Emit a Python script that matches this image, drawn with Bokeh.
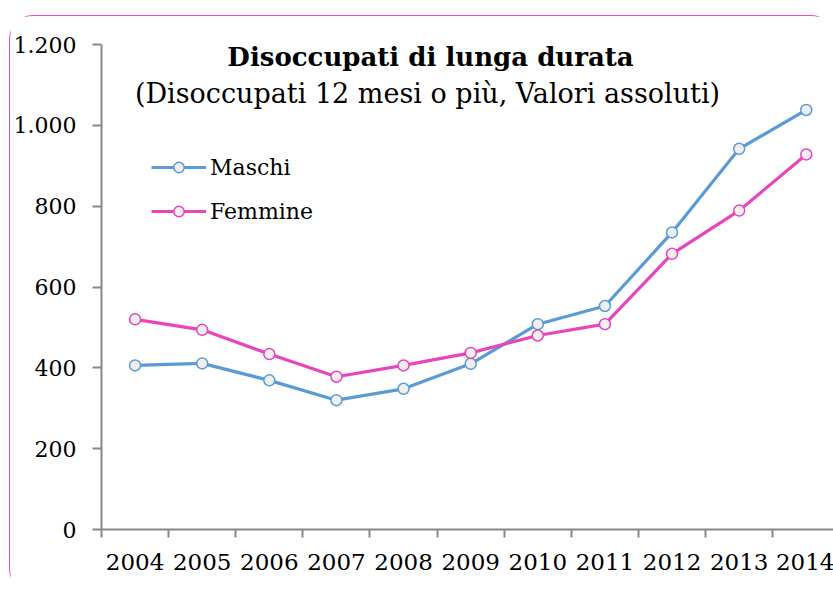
from bokeh.plotting import figure
from bokeh.models import (ColumnDataSource, FixedTicker, Label, Legend, LegendItem, Range1d)
from bokeh.embed import file_html
from bokeh.resources import INLINE

years = [2004, 2005, 2006, 2007, 2008, 2009, 2010, 2011, 2012, 2013, 2014]
maschi = [406, 411, 369, 320, 348, 410, 508, 553, 735, 942, 1038]
femmine = [520, 494, 434, 378, 406, 437, 480, 508, 682, 789, 928]
y_ticks = [0, 200, 400, 600, 800, 1000, 1200]
y_tick_labels = ["0", "200", "400", "600", "800", "1.000", "1.200"]
title_text = "Disoccupati di lunga durata"
subtitle_text = "(Disoccupati 12 mesi o più, Valori assoluti)"

BLUE = "#5B9BD5"
PINK = "#E844BC"
AXIS = "#888888"
FONT = "DejaVu Serif"

src = ColumnDataSource(dict(x=years, m=maschi, f=femmine))

p = figure(width=826, height=578, output_backend="svg", toolbar_location=None,
           x_range=Range1d(years[0] - 0.5, 2014.45), y_range=Range1d(0, 1200),
           min_border_left=90, min_border_right=0, min_border_top=28, min_border_bottom=65,
           background_fill_color="white", border_fill_color="white")
p.margin = (15, 0, 0, 9)
p.styles = {"border": "1.5px solid #E84BC5", "border-radius": "24px"}
p.outline_line_color = None
p.xgrid.visible = False
p.ygrid.visible = False

lm = p.line("x", "m", source=src, line_color=BLUE, line_width=3.2)
sm = p.scatter("x", "m", source=src, size=11, fill_color="#EFEFEF", line_color=BLUE, line_width=1.5)
lf = p.line("x", "f", source=src, line_color=PINK, line_width=3.2)
sf = p.scatter("x", "f", source=src, size=11, fill_color="#EFEFEF", line_color=PINK, line_width=1.5)

# axes
p.xaxis.ticker = FixedTicker(ticks=years, minor_ticks=[y - 0.5 for y in years] + [years[-1] + 0.5])
p.xaxis.major_tick_out = 0
p.xaxis.major_tick_in = 0
p.xaxis.minor_tick_out = 8
p.xaxis.minor_tick_in = 0
p.xaxis.minor_tick_line_color = AXIS
p.xaxis.minor_tick_line_width = 2
p.xaxis.major_label_standoff = 16
p.xaxis.major_label_text_font_size = "23px"
p.yaxis.ticker = FixedTicker(ticks=y_ticks)
p.yaxis.major_label_overrides = {t: l for t, l in zip(y_ticks, y_tick_labels)}
p.yaxis.major_tick_out = 9
p.yaxis.major_tick_in = 0
p.yaxis.minor_tick_line_color = None
p.yaxis.major_label_standoff = 16
p.yaxis.major_label_text_font_size = "22px"
for ax in (p.xaxis, p.yaxis):
    ax.axis_line_color = AXIS
    ax.axis_line_width = 2
    ax.major_tick_line_color = AXIS
    ax.major_tick_line_width = 2
    ax.major_label_text_font = FONT
    ax.major_label_text_color = "black"

# title
p.add_layout(Label(x=329, y=473, x_units="screen", y_units="screen", text=title_text,
                   text_font=FONT, text_font_size="26px", text_font_style="bold",
                   text_align="center", text_baseline="alphabetic", text_color="black"))
p.add_layout(Label(x=326, y=436, x_units="screen", y_units="screen", text=subtitle_text,
                   text_font=FONT, text_font_size="27px",
                   text_align="center", text_baseline="alphabetic", text_color="black"))

legend = Legend(items=[LegendItem(label="Maschi", renderers=[lm, sm]),
                       LegendItem(label="Femmine", renderers=[lf, sf])],
                location=(50, 305), glyph_width=55, glyph_height=26, label_height=26,
                spacing=18, padding=0, margin=0, label_standoff=4,
                label_text_font=FONT, label_text_font_size="22px", label_text_color="black",
                border_line_color=None, background_fill_alpha=0)
p.add_layout(legend)

open("out.html", "w").write(file_html(p, INLINE))
